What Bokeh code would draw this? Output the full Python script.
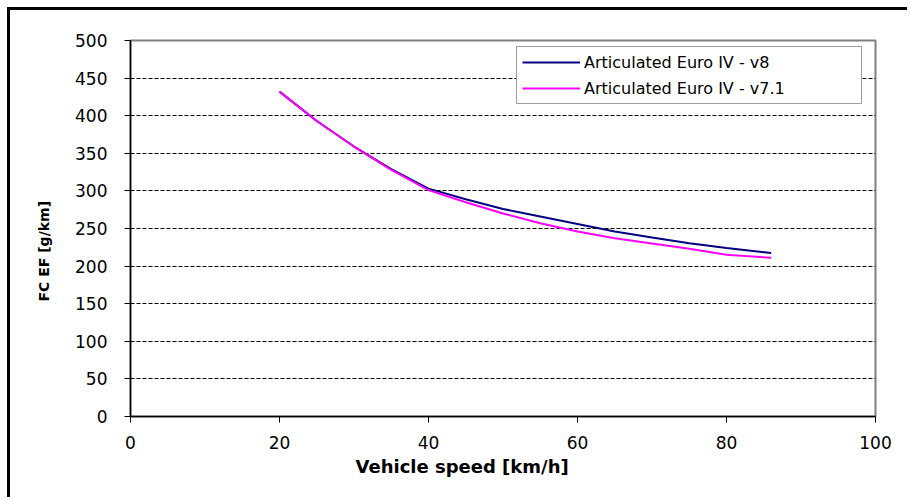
import math
from bokeh.plotting import figure
from bokeh.models import Legend, LegendItem, Title, SingleIntervalTicker, Range1d
from bokeh.embed import file_html
from bokeh.resources import INLINE

# ---- data ----
speed = [20, 25, 30, 35, 40, 45, 50, 55, 60, 65, 70, 75, 80, 86]
fc_v8 = [432, 393, 359, 329, 303, 289, 276, 266, 256, 246, 238, 230.5, 224, 217.5]
fc_v71 = [432, 393, 359, 328, 301, 285, 270, 257, 246, 237, 230, 223, 215, 211]
series_names = ["Articulated Euro IV - v8", "Articulated Euro IV - v7.1"]
series_colors = ["#000080", "#FF00FF"]
x_title = "Vehicle speed [km/h]"
y_title = "FC EF [g/km]"

FONT = "DejaVu Sans"

p = figure(width=900, height=490, output_backend="svg", toolbar_location=None,
           x_range=Range1d(0, 100), y_range=Range1d(0, 500),
           min_border_left=120, min_border_right=35, min_border_top=30, min_border_bottom=84)
p.styles = {"margin-left": "7px", "margin-top": "7px",
            "border-left": "3px solid black", "border-top": "3px solid black"}

p.background_fill_color = "white"
p.border_fill_color = "white"
p.outline_line_color = "#808080"
p.outline_line_width = 2

r1 = p.line(speed, fc_v8, line_color=series_colors[0], line_width=2)
r2 = p.line(speed, fc_v71, line_color=series_colors[1], line_width=2)

# axes
p.xaxis.ticker = SingleIntervalTicker(interval=20)
p.yaxis.ticker = SingleIntervalTicker(interval=50)
for ax in (p.xaxis[0], p.yaxis[0]):
    ax.axis_line_color = "black"
    ax.axis_line_width = 1.5
    ax.major_tick_line_color = "black"
    ax.major_tick_line_width = 1
    ax.major_tick_in = 0
    ax.major_tick_out = 6
    ax.minor_tick_line_color = None
    ax.major_label_text_font = FONT
    ax.major_label_text_font_size = "17px"
    ax.major_label_text_color = "black"
p.yaxis.major_label_standoff = 17
p.xaxis.major_label_standoff = 13

p.xgrid.grid_line_color = None
p.ygrid.grid_line_color = "black"
p.ygrid.grid_line_dash = "4 2"
p.ygrid.grid_line_width = 1

# axis titles
p.add_layout(Title(text=x_title, align="left", offset=225, standoff=4,
                   text_font=FONT, text_font_style="bold", text_font_size="18px",
                   text_color="black"), "below")
p.add_layout(Title(text=y_title, align="left", offset=115, standoff=42,
                   text_font=FONT, text_font_style="bold", text_font_size="14px",
                   text_color="black"), "left")

legend = Legend(items=[LegendItem(label=series_names[0], renderers=[r1]),
                       LegendItem(label=series_names[1], renderers=[r2])],
                location=(386, 312))
legend.border_line_color = "#404040"
legend.border_line_width = 1
legend.background_fill_color = "white"
legend.background_fill_alpha = 1
legend.label_text_font = FONT
legend.label_text_font_size = "16px"
legend.label_text_color = "black"
legend.glyph_width = 58
legend.glyph_height = 20
legend.label_height = 20
legend.label_width = 272
legend.label_standoff = 4
legend.padding = 5
legend.spacing = 6
legend.margin = 0
p.add_layout(legend, "center")

open("out.html", "w").write(file_html(p, INLINE))
